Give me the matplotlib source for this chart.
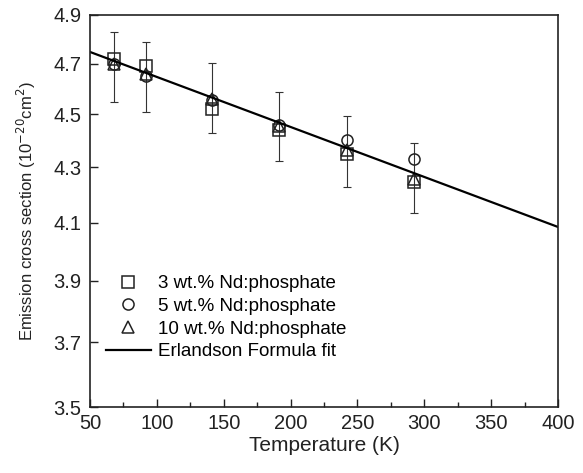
import numpy as np
import matplotlib
matplotlib.use('Agg')
from matplotlib import pyplot as plt
from matplotlib.ticker import FixedLocator, FormatStrFormatter, NullLocator, MultipleLocator

plt.rcParams['font.family'] = ['Liberation Sans', 'DejaVu Sans']

# data
temps = [68, 92, 141, 191, 242, 292]
nd3 = [4.72, 4.69, 4.52, 4.44, 4.35, 4.245]    # squares
nd5 = [4.70, 4.65, 4.555, 4.46, 4.40, 4.33]    # circles
nd10 = [4.70, 4.66, 4.56, 4.455, 4.365, 4.255]  # triangles
err_lo = [4.548, 4.510, 4.427, 4.323, 4.229, 4.135]
err_hi = [4.830, 4.789, 4.701, 4.588, 4.493, 4.389]

# Erlandson fit, end points
fit_t = [50, 400]
fit_y = [4.747, 4.085]

y_ticks = [3.5, 3.7, 3.9, 4.1, 4.3, 4.5, 4.7, 4.9]

fig = plt.figure(figsize=(5.83, 4.73), dpi=100)
ax = fig.add_axes([0.1544, 0.1395, 0.8026, 0.8288])

tri = np.array(nd10)
ax.errorbar(temps, tri, yerr=[tri - np.array(err_lo), np.array(err_hi) - tri],
            fmt='none', ecolor='#333333', elinewidth=0.8, capsize=3, capthick=0.8)

mk = dict(linestyle='none', markerfacecolor='none', markeredgecolor='#222222',
          markeredgewidth=1.1, markersize=8)
ax.plot(temps, nd3, marker='s', label='3 wt.% Nd:phosphate', **mk)
ax.plot(temps, nd5, marker='o', label='5 wt.% Nd:phosphate', **mk)
ax.plot(temps, nd10, marker='^', label='10 wt.% Nd:phosphate', **mk)
ax.plot(fit_t, fit_y, color='black', linewidth=1.6, label='Erlandson Formula fit')

ax.set_yscale('log')
ax.set_xlim(50, 400)
ax.set_ylim(3.5, 4.9)
ax.yaxis.set_major_locator(FixedLocator(y_ticks))
ax.yaxis.set_major_formatter(FormatStrFormatter('%.1f'))
ax.yaxis.set_minor_locator(NullLocator())
ax.yaxis.set_minor_formatter(plt.NullFormatter())
ax.xaxis.set_major_locator(MultipleLocator(50))
ax.xaxis.set_minor_locator(MultipleLocator(25))

ax.tick_params(which='both', direction='in', top=False, right=False, labelsize=14.5, width=1, colors='#222222')
ax.tick_params(axis='x', pad=5)
ax.tick_params(axis='y', pad=6)
ax.tick_params(which='major', length=6)
ax.tick_params(which='minor', length=3.5)
for s in ax.spines.values():
    s.set_linewidth(1.2)
    s.set_color('#222222')

ax.set_xlabel('Temperature (K)', fontsize=15, color='#222222', labelpad=2)
ax.set_ylabel('Emission cross section (10$^{-20}$cm$^2$)', fontsize=12, color='#222222', labelpad=11)

ax.legend(loc='lower left', bbox_to_anchor=(0.018, 0.1), frameon=False, fontsize=13.5,
          handlelength=2.4, handletextpad=0.4, labelspacing=0.3, borderaxespad=0)

fig.savefig('out.png', dpi=100)
